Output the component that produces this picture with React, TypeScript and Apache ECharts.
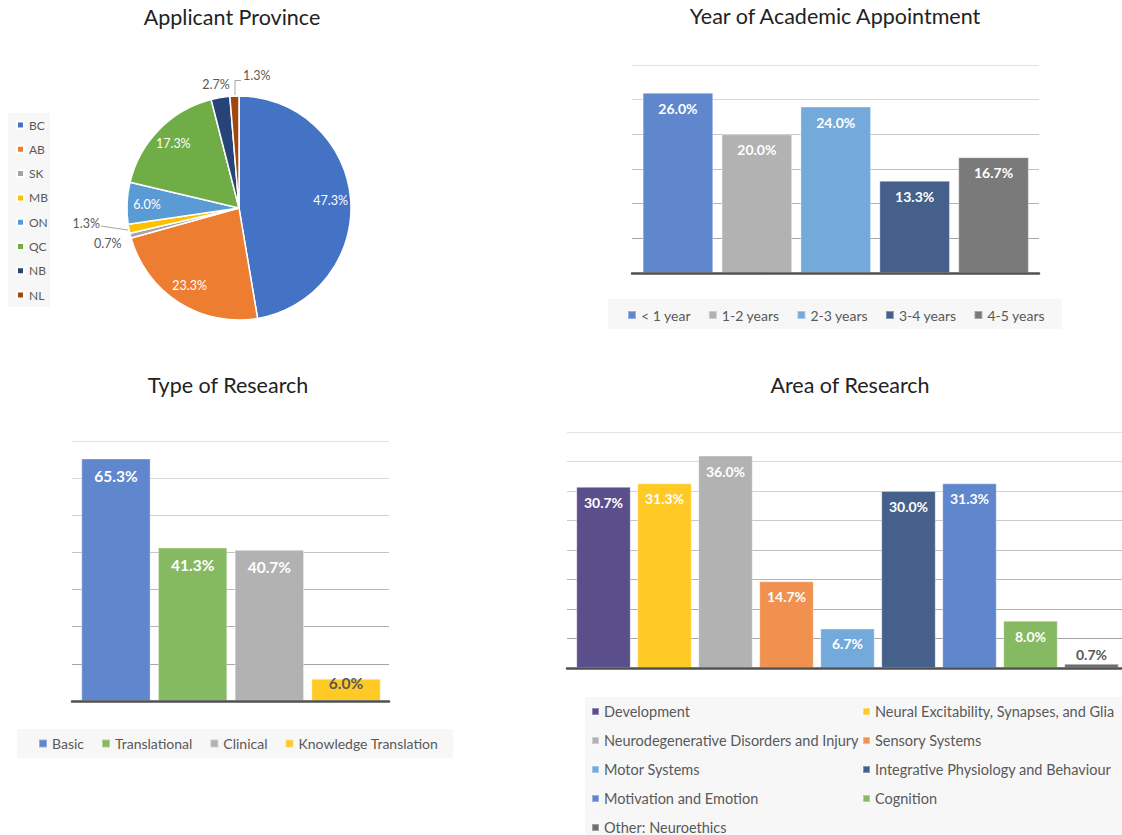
import React, { useEffect, useRef } from "react";
import * as echarts from "echarts";

// ---------- data ----------
const provinces = ["BC", "AB", "SK", "MB", "ON", "QC", "NB", "NL"];
const provinceShare = [47.3, 23.3, 0.7, 1.3, 6.0, 17.3, 2.7, 1.3];
const provinceColors = ["#4472C4", "#ED7D31", "#A5A5A5", "#FFC000", "#5B9BD5", "#70AD47", "#264478", "#9E480E"];

const appointmentYears = ["< 1 year", "1-2 years", "2-3 years", "3-4 years", "4-5 years"];
const appointmentShare = [26.0, 20.0, 24.0, 13.3, 16.7];
const appointmentColors = ["#6087CD", "#B2B2B2", "#74AADB", "#46608C", "#7A7A7A"];

const researchTypes = ["Basic", "Translational", "Clinical", "Knowledge Translation"];
const researchTypeShare = [65.3, 41.3, 40.7, 6.0];
const researchTypeColors = ["#6087CD", "#85B962", "#B2B2B2", "#FFC926"];

const researchAreas = [
  "Development",
  "Neural Excitability, Synapses, and Glia",
  "Neurodegenerative Disorders and Injury",
  "Sensory Systems",
  "Motor Systems",
  "Integrative Physiology and Behaviour",
  "Motivation and Emotion",
  "Cognition",
  "Other: Neuroethics",
];
const researchAreaShare = [30.7, 31.3, 36.0, 14.7, 6.7, 30.0, 31.3, 8.0, 0.7];
const researchAreaColors = ["#5A4F8B", "#FFC926", "#B2B2B2", "#F09150", "#74AADB", "#46608C", "#6087CD", "#85B962", "#6E6E6E"];

const FONT = "Lato, 'Open Sans', sans-serif";
const pct = (p: any) => (typeof p.value === "number" ? p.value.toFixed(1) + "%" : "");

function lineShades(n: number) {
  const out: string[] = [];
  for (let i = 0; i <= n; i++) {
    const t = (i - 1) / Math.max(1, n - 1);
    const v = Math.round(0xa6 + (0xe2 - 0xa6) * Math.min(1, Math.max(0, t)));
    const h = v.toString(16).padStart(2, "0");
    out.push("#" + h + h + h);
  }
  return out;
}

function barSeries(
  names: string[],
  values: number[],
  colors: string[],
  axisIndex: number,
  gap: string,
  fontSize: number,
  dist: number,
  special: Record<number, any>
) {
  return names.map((name, i) => ({
    type: "bar",
    name,
    xAxisIndex: axisIndex,
    yAxisIndex: axisIndex,
    stack: "s" + axisIndex,
    barCategoryGap: gap,
    silent: true,
    itemStyle: { color: colors[i], borderColor: "rgba(255,255,255,0.35)", borderWidth: 1 },
    label: {
      show: true,
      position: "insideTop",
      distance: dist,
      color: "#fff",
      fontWeight: "bold",
      fontSize,
      fontFamily: FONT,
      formatter: pct,
      ...(special[i] || {}),
    },
    data: values.map((v, j) => (j === i ? v : "-")),
  }));
}

function lineAxes(grid: number) {
  return {
    type: "category",
    gridIndex: grid,
    data: [""],
    axisLine: { show: true, lineStyle: { color: "#505050", width: 2.5 } },
    axisTick: { show: false },
    axisLabel: { show: false },
    z: 5,
  };
}

function buildOption() {
  const legendText = { color: "#595959", fontSize: 14, fontFamily: FONT, lineHeight: 14 };
  const titleStyle = { fontSize: 21.5, fontWeight: "normal", color: "#222", fontFamily: FONT };
  const smallLabel = { show: true, position: "outside", color: "#595959", fontSize: 12.5, fontFamily: FONT, formatter: pct };

  const pieData = provinces.map((name, i) => {
    const small = [2, 3, 6, 7].includes(i);
    return {
      name,
      value: provinceShare[i],
      itemStyle: { color: provinceColors[i] },
      label: small ? smallLabel : { show: false },
      labelLine: { show: i === 3 || i === 7, lineStyle: { color: "#A6A6A6", width: 1 } },
    };
  });

  const pieInner = provinces.map((name, i) => ({
    name,
    value: provinceShare[i],
    label: [2, 3, 6, 7].includes(i) ? { show: false } : { show: true },
  }));

  const labelSpots: Record<number, any> = {
    2: { x: 94, y: 243, align: "left", verticalAlign: "middle" },
    3: {
      x: 100,
      y: 223,
      align: "right",
      verticalAlign: "middle",
      labelLinePoints: [
        [128, 230],
        [114, 228],
        [101, 226],
      ],
    },
    6: { x: 216, y: 84, align: "center", verticalAlign: "middle" },
    7: {
      x: 243,
      y: 75,
      align: "left",
      verticalAlign: "middle",
      labelLinePoints: [
        [235, 95],
        [235, 80.5],
        [241, 80.5],
      ],
    },
  };

  const yBase = (grid: number, max: number, interval: number, lines: boolean) => ({
    type: "value",
    gridIndex: grid,
    min: 0,
    max,
    interval,
    axisLabel: { show: false },
    axisLine: { show: false },
    axisTick: { show: false },
    splitLine: lines
      ? { show: true, lineStyle: { color: lineShades(max / interval), width: 1 } }
      : { show: false },
  });

  const xBars = (grid: number, data: string[]) => ({
    type: "category",
    gridIndex: grid,
    data,
    axisLine: { show: false },
    axisTick: { show: false },
    axisLabel: { show: false },
  });

  const areaLegend = (data: string[], left: number) => ({
    data,
    orient: "vertical",
    left,
    top: 704,
    height: 140,
    padding: 0,
    itemWidth: 7,
    itemHeight: 7,
    itemGap: 14,
    icon: "rect",
    selectedMode: false,
    textStyle: { ...legendText, fontSize: 14.5, lineHeight: 15 },
  });

  return {
    animation: false,
    backgroundColor: "#fff",
    textStyle: { fontFamily: FONT },
    title: [
      { text: "Applicant Province", left: 232, top: 6, textAlign: "center", padding: 0, textStyle: titleStyle },
      { text: "Year of Academic Appointment", left: 835, top: 5, textAlign: "center", padding: 0, textStyle: titleStyle },
      { text: "Type of Research", left: 228, top: 374, textAlign: "center", padding: 0, textStyle: titleStyle },
      { text: "Area of Research", left: 850, top: 374, textAlign: "center", padding: 0, textStyle: titleStyle },
    ],
    graphic: [
      { type: "rect", z: 0, shape: { x: 8, y: 113, width: 42, height: 194 }, style: { fill: "#F7F7F7" } },
      { type: "rect", z: 0, shape: { x: 608, y: 299, width: 454, height: 30 }, style: { fill: "#F7F7F7" } },
      { type: "rect", z: 0, shape: { x: 17, y: 729, width: 436, height: 29 }, style: { fill: "#F7F7F7" } },
      { type: "rect", z: 0, shape: { x: 585, y: 697, width: 537, height: 138 }, style: { fill: "#F7F7F7" } },
    ],
    legend: [
      {
        data: provinces,
        orient: "vertical",
        left: 16,
        top: 118,
        padding: 0,
        itemWidth: 7,
        itemHeight: 7,
        itemGap: 10.3,
        icon: "rect",
        selectedMode: false,
        textStyle: { ...legendText, fontSize: 12, lineHeight: 14 },
      },
      {
        data: appointmentYears,
        orient: "horizontal",
        left: 627,
        top: 308,
        padding: 0,
        itemWidth: 8,
        itemHeight: 8,
        itemGap: 17,
        icon: "rect",
        selectedMode: false,
        textStyle: legendText,
      },
      {
        data: researchTypes,
        orient: "horizontal",
        left: 38,
        top: 736.5,
        padding: 0,
        itemWidth: 8,
        itemHeight: 8,
        itemGap: 17,
        icon: "rect",
        selectedMode: false,
        textStyle: legendText,
      },
      areaLegend(researchAreas.filter((_, i) => i % 2 === 0), 591),
      areaLegend(researchAreas.filter((_, i) => i % 2 === 1), 862),
    ],
    grid: [
      { left: 632, top: 65, width: 407, height: 208 },
      { left: 638.5, top: 65, width: 394.5, height: 208 },
      { left: 72, top: 441, width: 317, height: 260 },
      { left: 77.6, top: 441, width: 306.8, height: 260 },
      { left: 567, top: 432, width: 560, height: 236 },
      { left: 573, top: 432, width: 554, height: 236 },
    ],
    xAxis: [
      lineAxes(0),
      xBars(1, appointmentYears),
      lineAxes(2),
      xBars(3, researchTypes),
      lineAxes(4),
      xBars(5, researchAreas),
    ],
    yAxis: [
      yBase(0, 30, 5, true),
      yBase(1, 30, 5, false),
      yBase(2, 70, 10, true),
      yBase(3, 70, 10, false),
      yBase(4, 40, 5, true),
      yBase(5, 40, 5, false),
    ],
    series: [
      {
        type: "pie",
        name: "province",
        center: [239, 208],
        radius: [0, 112],
        startAngle: 90,
        clockwise: true,
        avoidLabelOverlap: false,
        silent: true,
        itemStyle: { borderColor: "#fff", borderWidth: 1.5 },
        labelLine: { length: 8, length2: 8 },
        labelLayout: (p: any) => labelSpots[p.dataIndex] || {},
        data: pieData,
      },
      {
        type: "pie",
        name: "provinceLabels",
        center: [239, 208],
        radius: [66, 112],
        startAngle: 90,
        clockwise: true,
        silent: true,
        avoidLabelOverlap: false,
        legendHoverLink: false,
        itemStyle: { color: "rgba(0,0,0,0)", borderWidth: 0 },
        label: { position: "inside", color: "#fff", fontSize: 12.5, fontFamily: FONT, formatter: pct },
        labelLine: { show: false },
        data: pieInner,
        z: 3,
      },
      ...barSeries(appointmentYears, appointmentShare, appointmentColors, 1, "10.5%", 14, 8.5, {}),
      ...barSeries(researchTypes, researchTypeShare, researchTypeColors, 3, "9.6%", 15.5, 9.5, {
        3: { position: "top", distance: -12, color: "#595959" },
      }),
      ...barSeries(researchAreas, researchAreaShare, researchAreaColors, 5, "10.7%", 14, 8.5, {
        8: { position: "top", distance: 2, color: "#595959" },
      }),
    ],
  };
}

export default function App() {
  const ref = useRef<HTMLDivElement>(null);
  useEffect(() => {
    document.body.style.margin = "0";
    const chart = echarts.init(ref.current as HTMLDivElement, null, { renderer: "svg" });
    chart.setOption(buildOption() as any);
    return () => chart.dispose();
  }, []);
  return <div ref={ref} style={{ width: 1122, height: 835 }} />;
}
